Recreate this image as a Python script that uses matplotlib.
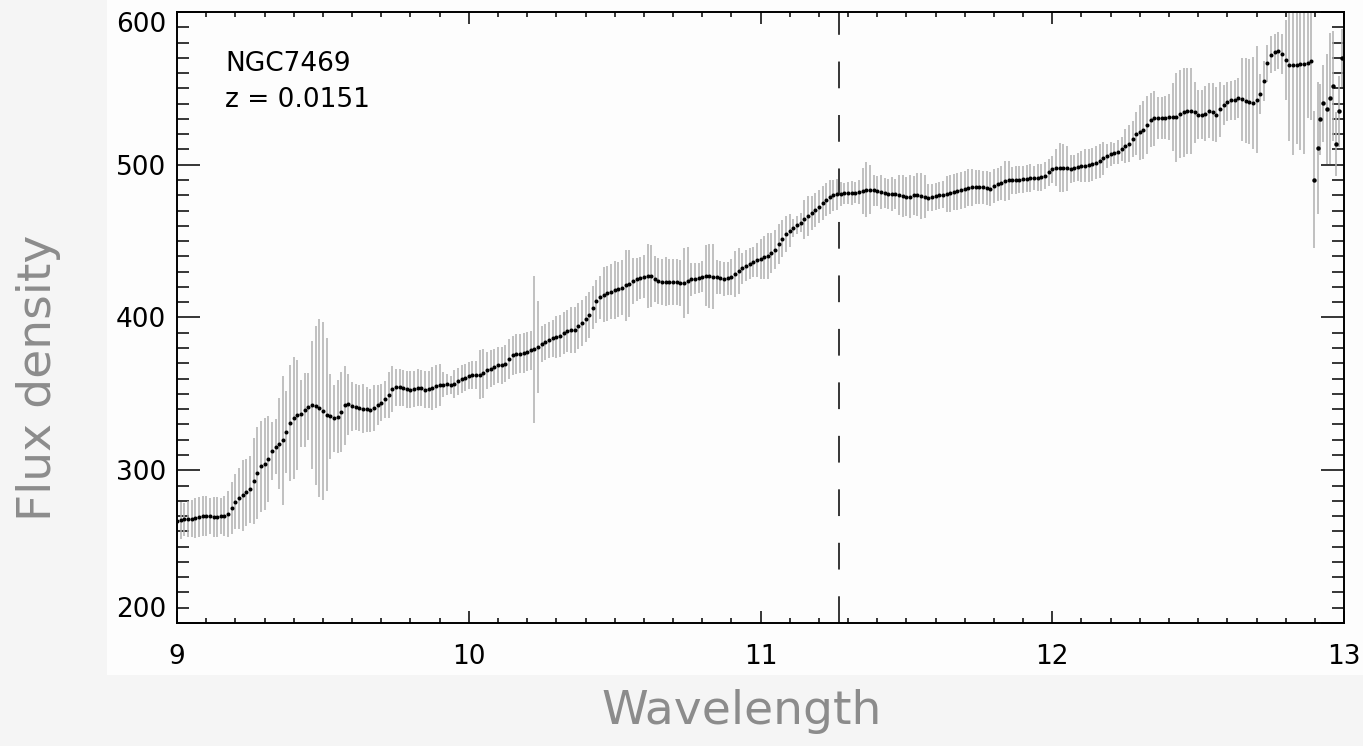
import numpy as np
import matplotlib
matplotlib.use("Agg")
import matplotlib.pyplot as plt
from matplotlib.patches import Rectangle
from matplotlib.ticker import MultipleLocator

# NGC7469 spectrum
# regular wavelength grid 9.0 .. 12.8875 (one row below = 0.1 in wavelength)
wl_start = 9.0
wl_step = 0.0125

flux = [
    266.8, 267.3, 267.8, 268.0, 268.2, 268.8, 269.5, 270.0,  # 9.0
    270.2, 270.0, 269.3, 269.5, 270.0, 270.0, 271.5, 275.0,  # 9.1
    279.5, 281.5, 283.5, 285.5, 287.4, 293.0, 298.0, 302.5,  # 9.2
    304.0, 307.5, 312.5, 315.5, 317.5, 319.5, 325.0, 331.0,  # 9.3
    334.3, 336.0, 337.0, 339.5, 341.5, 342.9, 342.2, 340.7,  # 9.4
    338.8, 336.4, 335.2, 334.0, 335.0, 338.0, 342.5, 343.3,  # 9.5
    341.8, 341.5, 341.0, 340.4, 339.8, 339.2, 340.8, 342.9,  # 9.6
    344.2, 346.5, 349.5, 353.0, 354.3, 354.3, 353.8, 353.0,  # 9.7
    352.7, 353.1, 354.0, 353.8, 352.7, 352.9, 353.6, 355.0,  # 9.8
    355.8, 356.1, 356.3, 355.6, 356.5, 358.2, 359.6, 360.7,  # 9.9
    362.0, 362.4, 362.5, 362.5, 363.6, 365.3, 366.6, 367.7,  # 10.0
    368.9, 368.6, 369.8, 372.8, 375.2, 376.1, 376.4, 376.6,  # 10.1
    377.7, 378.4, 379.2, 380.6, 382.6, 383.9, 385.3, 386.4,  # 10.2
    387.3, 387.9, 389.8, 391.2, 391.8, 391.8, 394.7, 396.2,  # 10.3
    399.2, 401.8, 406.5, 410.6, 413.3, 414.8, 416.0, 416.8,  # 10.4
    417.8, 418.6, 419.6, 421.0, 422.2, 423.8, 425.0, 425.9,  # 10.5
    426.6, 427.4, 427.2, 425.2, 423.9, 423.4, 423.4, 423.4,  # 10.6
    423.4, 423.2, 422.6, 422.8, 424.2, 425.0, 425.4, 426.0,  # 10.7
    426.7, 427.4, 427.1, 426.8, 426.5, 426.1, 425.2, 425.6,  # 10.8
    426.6, 428.3, 430.2, 432.2, 434.0, 435.3, 436.4, 437.5,  # 10.9
    438.5, 439.5, 440.4, 442.0, 444.5, 448.3, 451.7, 454.7,  # 11.0
    456.9, 458.6, 460.5, 462.1, 464.2, 466.3, 468.3, 470.2,  # 11.1
    472.6, 475.0, 477.2, 478.7, 479.9, 480.6, 481.0, 481.3,  # 11.2
    481.5, 481.5, 481.7, 482.2, 483.0, 483.5, 483.6, 483.2,  # 11.3
    482.7, 482.2, 481.5, 481.0, 481.0, 480.8, 480.4, 479.6,  # 11.4
    479.2, 479.0, 479.9, 480.3, 479.8, 479.1, 478.4, 478.6,  # 11.5
    479.3, 480.0, 480.4, 480.8, 481.3, 482.1, 482.5, 483.2,  # 11.6
    483.9, 485.0, 485.3, 485.6, 485.6, 485.2, 484.7, 484.3,  # 11.7
    486.0, 487.1, 488.0, 489.2, 489.7, 489.8, 489.9, 490.2,  # 11.8
    490.5, 490.9, 491.3, 491.5, 491.5, 491.7, 492.8, 495.0,  # 11.9
    496.9, 498.0, 498.0, 497.9, 497.6, 497.1, 497.6, 498.5,  # 12.0
    499.0, 499.4, 499.6, 500.2, 501.4, 502.6, 504.2, 505.8,  # 12.1
    507.2, 507.5, 508.2, 510.2, 512.3, 513.9, 516.8, 520.3,  # 12.2
    521.2, 522.5, 526.3, 529.3, 530.3, 530.6, 530.6, 530.9,  # 12.3
    531.2, 531.3, 531.0, 533.2, 534.3, 535.1, 535.2, 534.4,  # 12.4
    532.9, 532.8, 533.5, 535.3, 534.4, 532.8, 536.3, 539.2,  # 12.5
    541.4, 542.1, 542.6, 543.7, 542.8, 542.0, 541.3, 540.5,  # 12.6
    542.5, 546.5, 554.8, 566.5, 572.0, 573.7, 574.7, 572.6,  # 12.7
    568.6, 565.5, 565.3, 565.5, 565.8, 566.1, 566.7, 567.6,  # 12.8
]

flux_err = [
    12, 12, 11, 12, 12, 13, 13, 13,  # 9.0
    13, 12, 13, 13, 12, 13, 15, 17,  # 9.1
    18, 20, 23, 22, 22, 28, 30, 30,  # 9.2
    30, 28, 19, 18, 30, 42, 27, 38,  # 9.3
    40, 36, 22, 24, 22, 42, 52, 58,  # 9.4
    58, 50, 28, 22, 24, 26, 26, 20,  # 9.5
    16, 15, 15, 16, 15, 14, 15, 13,  # 9.6
    12, 12, 15, 15, 12, 12, 12, 12,  # 9.7
    12, 12, 12, 12, 12, 12, 14, 14,  # 9.8
    14, 8, 7, 6, 9, 9, 9, 9,  # 9.9
    9, 9, 9, 16, 16, 12, 12, 12,  # 10.0
    12, 12, 12, 13, 13, 13, 13, 13,  # 10.1
    13, 13, 48, 30, 12, 12, 12, 12,  # 10.2
    14, 14, 14, 14, 15, 15, 15, 15,  # 10.3
    15, 15, 14, 14, 14, 18, 18, 18,  # 10.4
    19, 18, 18, 23, 22, 15, 14, 14,  # 10.5
    14, 21, 20, 15, 15, 15, 16, 15,  # 10.6
    15, 15, 15, 23, 22, 11, 10, 10,  # 10.7
    10, 20, 21, 21, 11, 11, 11, 11,  # 10.8
    12, 15, 15, 10, 10, 10, 10, 11,  # 10.9
    13, 14, 15, 13, 13, 13, 12, 12,  # 11.0
    11, 6, 6, 6, 13, 13, 11, 11,  # 11.1
    11, 11, 11, 11, 10, 10, 8, 7,  # 11.2
    7, 8, 7, 8, 15, 18, 16, 10,  # 11.3
    10, 11, 10, 10, 11, 10, 13, 14,  # 11.4
    13, 14, 13, 14, 15, 14, 9, 9,  # 11.5
    9, 9, 9, 12, 12, 12, 12, 12,  # 11.6
    12, 12, 12, 11, 11, 11, 11, 11,  # 11.7
    11, 11, 11, 13, 13, 9, 9, 9,  # 11.8
    9, 9, 9, 8, 9, 9, 9, 9,  # 11.9
    9, 12, 16, 16, 15, 9, 9, 9,  # 12.0
    10, 11, 11, 11, 11, 11, 11, 8,  # 12.1
    8, 7, 8, 8, 11, 12, 12, 14,  # 12.2
    18, 19, 19, 18, 18, 14, 14, 14,  # 12.3
    15, 22, 29, 29, 29, 28, 28, 20,  # 12.4
    16, 16, 18, 18, 19, 18, 18, 13,  # 12.5
    13, 13, 13, 13, 27, 28, 28, 30,  # 12.6
    35, 13, 13, 12, 12, 12, 12, 13,  # 12.7
    26, 50, 59, 52, 56, 59, 36, 38,  # 12.8
]

# noisy red end
tail_wl = [12.897, 12.909, 12.919, 12.929, 12.940, 12.951, 12.961, 12.971, 12.982, 12.992]
tail_flux = [490.2, 511.0, 529.7, 540.2, 536.5, 543.5, 551.8, 513.6, 534.9, 569.6]
tail_err = [45, 43, 23, 25, 36, 43, 36, 21, 23, 19]

line_wl = 11.27  # dashed line
obj_name = "NGC7469"
obj_z = "z = 0.0151"
xticks = [9, 10, 11, 12, 13]
yticks = [200, 300, 400, 500, 600]

wl = np.round(wl_start + wl_step * np.arange(len(flux)), 4)

plt.rcParams['font.family'] = ['DejaVu Sans']

fig = plt.figure(figsize=(13.63, 7.46), dpi=100, facecolor='#f5f5f5')
# lighter panel behind the plot
fig.add_artist(Rectangle((0.0785, 0.0952), 0.9215, 0.9048, transform=fig.transFigure,
                         facecolor='#fdfdfd', edgecolor='none', zorder=-5))

ax = fig.add_axes([0.1299, 0.1649, 0.8562, 0.8190])
ax.set_facecolor('#fdfdfd')

ax.errorbar(wl, flux, yerr=flux_err, fmt='none', ecolor='#b0b0b0', elinewidth=1.1, capsize=0)
ax.errorbar(tail_wl, tail_flux, yerr=tail_err, fmt='none', ecolor='#b0b0b0', elinewidth=1.1, capsize=0)
ax.plot(wl, flux, 'o', ms=2.9, color='black', mew=0)
ax.plot(tail_wl, tail_flux, 'o', ms=3.2, color='black', mew=0)

ax.plot([line_wl, line_wl], yticks[::len(yticks) - 1], color='black', lw=1.1,
        linestyle=(0, (17.5, 17.5)))

ax.set_xlim(xticks[0], xticks[-1])
ax.set_ylim(yticks[0], yticks[-1])
ax.set_xticks(xticks)
ax.set_yticks(yticks)
ax.xaxis.set_minor_locator(MultipleLocator(0.1))
ax.yaxis.set_minor_locator(MultipleLocator(10))

ax.tick_params(which='both', direction='in', top=True, right=True, color='black')
ax.tick_params(axis='x', which='major', length=8.6, width=1.1, pad=15, labelsize=19)
ax.tick_params(axis='x', which='minor', length=3.6, width=1.1)
ax.tick_params(axis='y', which='major', length=16.5, width=1.1, pad=8, labelsize=19)
ax.tick_params(axis='y', which='minor', length=8.6, width=1.1)
for s in ax.spines.values():
    s.set_linewidth(1.4)

# keep end labels inside the axis range, like the original
ylabs = ax.get_yticklabels()
ylabs[0].set_va('bottom')
ylabs[-1].set_va('top')

ax.text(0.041, 0.915, obj_name, transform=ax.transAxes, fontsize=19, va='center', ha='left')
ax.text(0.041, 0.856, obj_z, transform=ax.transAxes, fontsize=19, va='center', ha='left')

fig.text(0.544, 0.046, 'Wavelength', ha='center', va='center', fontsize=34,
         color='#8c8c8c')
fig.text(0.028, 0.493, 'Flux density', ha='center', va='center', rotation=90, fontsize=34,
         color='#8c8c8c')

fig.savefig('out.png', dpi=100, facecolor=fig.get_facecolor())
